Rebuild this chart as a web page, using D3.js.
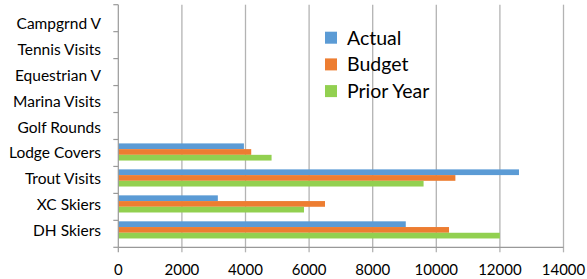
<!DOCTYPE html>
<html>
<head>
<meta charset="utf-8">
<script src="https://cdn.jsdelivr.net/npm/d3@7"></script>
<style>
  body { margin: 0; background: #fff; }
  text { font-family: Lato, "Open Sans", sans-serif; fill: #000; }
</style>
</head>
<body>
<svg id="chart" width="587" height="279"></svg>
<script>
// categories, top to bottom as shown
var categories = ["Campgrnd V", "Tennis Visits", "Equestrian V", "Marina Visits", "Golf Rounds",
                  "Lodge Covers", "Trout Visits", "XC Skiers", "DH Skiers"];
var seriesNames = ["Actual", "Budget", "Prior Year"];
var actual = [0, 0, 0, 0, 0, 3950, 12600, 3130, 9040];
var budget = [0, 0, 0, 0, 0, 4180, 10600, 6500, 10400];
var priorYear = [0, 0, 0, 0, 0, 4820, 9600, 5840, 12000];
var xTicks = [0, 2000, 4000, 6000, 8000, 10000, 12000, 14000];
var colors = ["#5B9BD5", "#ED7D31", "#92D050"];

var svg = d3.select("#chart");
var plotLeft = 118.3, plotRight = 563.5, plotTop = 4.7, plotBottom = 247.3;

var x = d3.scaleLinear().domain([0, 14000]).range([plotLeft, plotRight]);
var y = d3.scaleBand().domain(categories).range([plotTop, plotBottom]).padding(0.34);
var inner = d3.scaleBand().domain(seriesNames).range([0, y.bandwidth()]);

var allSeries = [actual, budget, priorYear];
var step = (plotBottom - plotTop) / categories.length;

// gridlines
svg.append("g").selectAll("line")
  .data(xTicks.slice(1))
  .enter().append("line")
    .attr("x1", function(d) { return x(d); })
    .attr("x2", function(d) { return x(d); })
    .attr("y1", plotTop)
    .attr("y2", plotBottom + 5)
    .attr("stroke", "#b3b3b3")
    .attr("stroke-width", 1.3);

// bars
allSeries.forEach(function(vals, si) {
  svg.append("g").selectAll("rect")
    .data(vals)
    .enter().append("rect")
      .attr("x", x(0))
      .attr("y", function(d, i) { return y(categories[i]) + inner(seriesNames[si]); })
      .attr("width", function(d) { return x(d) - x(0); })
      .attr("height", inner.bandwidth())
      .attr("fill", colors[si]);
});

// axes
var axisG = svg.append("g").attr("stroke", "#999").attr("stroke-width", 1.2);
axisG.append("line").attr("x1", plotLeft).attr("x2", plotLeft).attr("y1", plotTop).attr("y2", plotBottom);
axisG.selectAll(".tk")
  .data(d3.range(categories.length + 1))
  .enter().append("line")
    .attr("x1", plotLeft - 5).attr("x2", plotLeft)
    .attr("y1", function(i) { return plotTop + i * step; })
    .attr("y2", function(i) { return plotTop + i * step; });
axisG.append("line").attr("x1", plotLeft).attr("x2", plotRight).attr("y1", plotBottom).attr("y2", plotBottom);
axisG.append("line").attr("x1", plotLeft).attr("x2", plotLeft).attr("y1", plotBottom).attr("y2", plotBottom + 5);

// category labels
svg.append("g").selectAll("text")
  .data(categories)
  .enter().append("text")
    .attr("x", 101)
    .attr("y", function(d) { return y(d) + y.bandwidth() / 2; })
    .attr("dy", "0.42em")
    .attr("text-anchor", "end")
    .style("font-size", "15.5px")
    .text(function(d) { return d; });

// tick labels
svg.append("g").selectAll("text")
  .data(xTicks)
  .enter().append("text")
    .attr("x", function(d) { return x(d); })
    .attr("y", 270)
    .attr("dy", "0.36em")
    .attr("text-anchor", "middle")
    .style("font-size", "15px")
    .text(function(d) { return d; });

// legend
var legend = svg.append("g").selectAll("g")
  .data(seriesNames)
  .enter().append("g")
    .attr("transform", function(d, i) { return "translate(325," + (37.7 + i * 26.7) + ")"; });
legend.append("rect")
  .attr("x", 0).attr("y", -6)
  .attr("width", 12).attr("height", 12)
  .attr("fill", function(d, i) { return colors[i]; });
legend.append("text")
  .attr("x", 22)
  .attr("dy", "0.36em")
  .style("font-size", "19.5px")
  .text(function(d) { return d; });
</script>
</body>
</html>
